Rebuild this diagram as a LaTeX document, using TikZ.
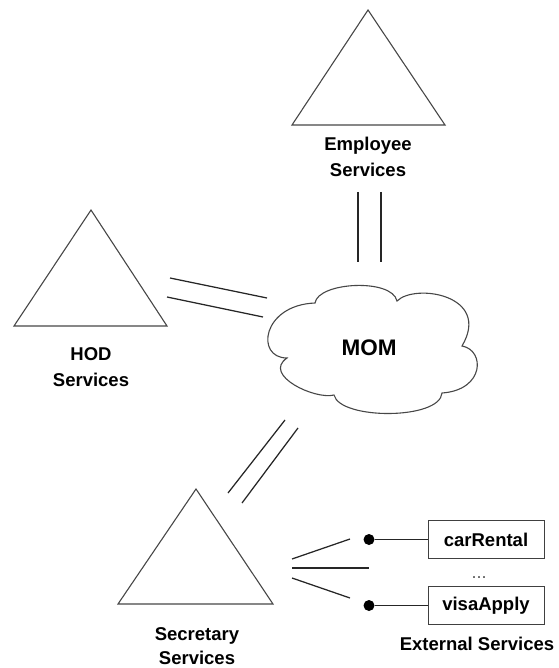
\documentclass[tikz,border=0pt]{standalone}
\usepackage{fontspec}
\setmainfont{Liberation Sans}
\begin{document}
\begin{tikzpicture}[x=1pt,y=-1pt]
\useasboundingbox (0,0) rectangle (558,668);
\tikzset{
  shapeline/.style={draw=black!72, line width=1.1pt, line join=miter},
  link/.style={draw=black!85, line width=1.25pt},
  lbl/.style={font=\bfseries\fontsize{18.5}{26}\selectfont, align=center, anchor=north, inner sep=0pt},
  svc/.style={draw=black!75, line width=1pt, font=\bfseries\fontsize{18.5}{22}\selectfont,
              minimum width=116pt, minimum height=38pt, inner sep=0pt},
  pin/.style={circle, fill=black, inner sep=0pt, minimum size=11pt}
}
% triangles
\draw[shapeline] (368,10) -- (292,125) -- (445,125) -- cycle;
\draw[shapeline] (91,210) -- (14,326) -- (167,326) -- cycle;
\draw[shapeline] (196,489) -- (118,604) -- (273,604) -- cycle;
% labels
\node[lbl] (emp) at (368,137) {Employee\\Services};
\node[lbl] (hod) at (91,347) {HOD\\Services};
\node[lbl, font=\bfseries\fontsize{18.5}{24}\selectfont] (sec) at (197,627) {Secretary\\Services};
\node[lbl] (ext) at (477,637) {External Services};
% cloud
\draw[shapeline, fill=white] (315,303) .. controls (318,282) and (392,278) .. (397,301)
  .. controls (415,283) and (492,295) .. (462,346)
  .. controls (485,350) and (485,390) .. (442,393)
  .. controls (440,420) and (340,420) .. (334,395)
  .. controls (315,400) and (262,375) .. (287,358)
  .. controls (255,358) and (262,305) .. (315,303) -- cycle;
\node[font=\bfseries\fontsize{22.5}{26}\selectfont, inner sep=0pt] (mom) at (369,348) {MOM};
% double links
\coordinate (e1a) at (358,192); \coordinate (e1b) at (358,262);
\coordinate (e2a) at (381,192); \coordinate (e2b) at (381,262);
\draw[link] (e1a) -- (e1b);
\draw[link] (e2a) -- (e2b);
\coordinate (h1a) at (170,278); \coordinate (h1b) at (267,298);
\coordinate (h2a) at (167,297); \coordinate (h2b) at (263,317);
\draw[link] (h1a) -- (h1b);
\draw[link] (h2a) -- (h2b);
\coordinate (s1a) at (228,493); \coordinate (s1b) at (285,420);
\coordinate (s2a) at (242,503); \coordinate (s2b) at (298,428);
\draw[link] (s1a) -- (s1b);
\draw[link] (s2a) -- (s2b);
% external services
\coordinate (x1a) at (292,559); \coordinate (x1b) at (350,539);
\coordinate (x2a) at (292,568); \coordinate (x2b) at (369,568);
\coordinate (x3a) at (292,578); \coordinate (x3b) at (350,598);
\draw[link] (x1a) -- (x1b);
\draw[link] (x2a) -- (x2b);
\draw[link] (x3a) -- (x3b);
\node[svc] (car) at (486,539.5) {carRental};
\node[svc] (visa) at (486,605.5) {visaApply};
\node[pin] (p1) at (369,539.5) {};
\node[pin] (p2) at (369,605.5) {};
\draw[link] (p1) -- (car);
\draw[link] (p2) -- (visa);
\node[font=\fontsize{18}{20}\selectfont, text=black!65, anchor=base, inner sep=0pt] (more) at (479,578) {...};
\end{tikzpicture}
\end{document}
